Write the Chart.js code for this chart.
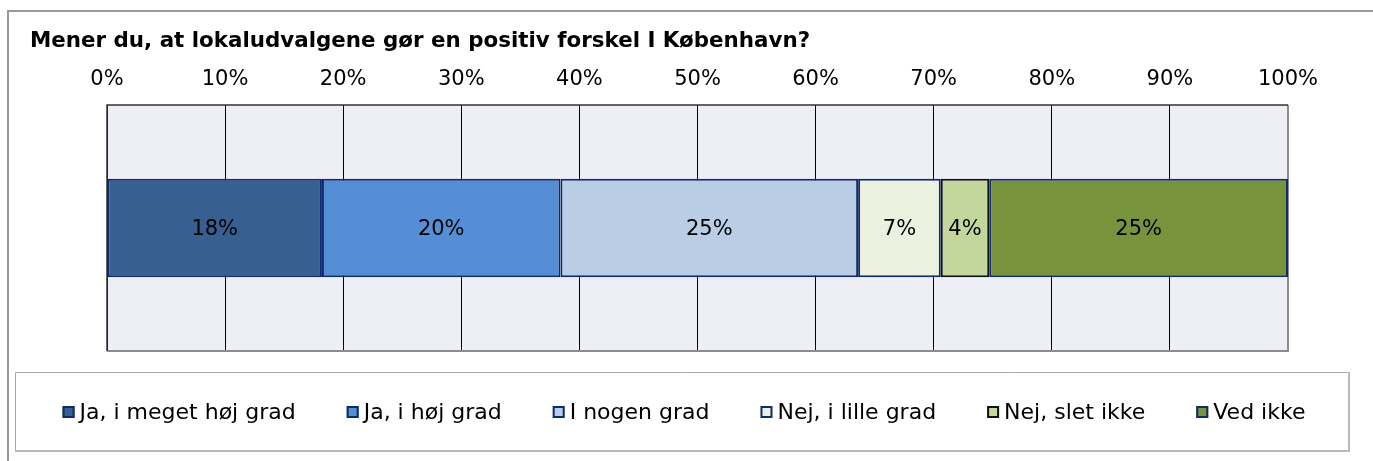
<!DOCTYPE html>
<html>
<head>
<meta charset="utf-8">
<script src="https://cdn.jsdelivr.net/npm/chart.js@4"></script>
<style>
html,body{margin:0;padding:0;background:#fff;}
#wrap{width:1373px;height:461px;position:relative;}
</style>
</head>
<body>
<div id="wrap"><canvas id="c" width="1373" height="461"></canvas></div>
<script>
const chartTitle = 'Mener du, at lokaludvalgene gør en positiv forskel I København?';
const categories = [''];
const seriesNames = ['Ja, i meget høj grad', 'Ja, i høj grad', 'I nogen grad', 'Nej, i lille grad', 'Nej, slet ikke', 'Ved ikke'];
const seriesValues = [18.2, 20.2, 25.2, 7.0, 4.1, 25.3];
const seriesColors = ['#375F8F', '#558ED5', '#B9CDE5', '#EBF1DE', '#C3D69B', '#77933C'];
const seriesBorders = ['#0F2B6B', '#0F2B6B', '#0F2B6B', '#0F2B6B', '#111111', '#0F2B6B'];
const tickValues = [0, 10, 20, 30, 40, 50, 60, 70, 80, 90, 100];

const FONT = "'DejaVu Sans', Verdana, sans-serif";

const datasets = seriesNames.map((name, i) => ({
  label: name,
  data: [seriesValues[i]],
  backgroundColor: seriesColors[i],
  borderColor: seriesBorders[i],
  borderWidth: 2,
  borderSkipped: false,
  barPercentage: 0.40,
  categoryPercentage: 1.0
}));

const decor = {
  id: 'decor',
  beforeDraw(chart) {
    const ctx = chart.ctx;
    const a = chart.chartArea;
    ctx.save();
    ctx.fillStyle = '#fff';
    ctx.fillRect(0, 0, chart.width, chart.height);
    // outer frame (right and bottom edges lie outside the picture)
    ctx.strokeStyle = '#999999';
    ctx.lineWidth = 2;
    ctx.strokeRect(8, 11, 1380, 470);
    // plot background
    ctx.fillStyle = '#EEEEF7';
    ctx.fillRect(a.left, a.top, a.right - a.left, a.bottom - a.top);
    // title
    ctx.fillStyle = '#000';
    ctx.font = "bold 21.4px " + FONT;
    ctx.textBaseline = 'alphabetic';
    ctx.textAlign = 'left';
    ctx.fillText(chartTitle, 30, 47);
    ctx.restore();
  },
  beforeDatasetsDraw(chart) {
    const ctx = chart.ctx;
    const a = chart.chartArea;
    ctx.save();
    ctx.lineWidth = 2;
    ctx.strokeStyle = '#8c8c8c';
    ctx.beginPath();
    ctx.moveTo(a.right, a.top);
    ctx.lineTo(a.right, a.bottom);
    ctx.lineTo(a.left, a.bottom);
    ctx.stroke();
    ctx.strokeStyle = '#333';
    ctx.lineWidth = 1.5;
    ctx.beginPath();
    ctx.moveTo(a.left, a.bottom);
    ctx.lineTo(a.left, a.top);
    ctx.lineTo(a.right, a.top);
    ctx.stroke();
    ctx.restore();
  },
  afterDatasetsDraw(chart) {
    const ctx = chart.ctx;
    ctx.save();
    ctx.fillStyle = '#000';
    ctx.font = "21px " + FONT;
    ctx.textAlign = 'center';
    ctx.textBaseline = 'middle';
    chart.data.datasets.forEach((ds, i) => {
      const meta = chart.getDatasetMeta(i);
      meta.data.forEach((el, j) => {
        const p = el.getCenterPoint();
        ctx.fillText(Math.round(ds.data[j]) + '%', p.x, p.y + 2);
      });
    });
    ctx.restore();
  },
  afterDraw(chart) {
    const ctx = chart.ctx;
    ctx.save();
    // legend box
    const bx = 15, by = 372, bw = 1334, bh = 79;
    ctx.strokeStyle = '#a8a8a8';
    ctx.lineWidth = 1;
    ctx.beginPath();
    ctx.moveTo(bx + 0.5, by + bh);
    ctx.lineTo(bx + 0.5, by + 0.5);
    ctx.lineTo(bx + bw, by + 0.5);
    ctx.stroke();
    ctx.strokeStyle = '#b8b8b8';
    ctx.lineWidth = 2;
    ctx.beginPath();
    ctx.moveTo(bx + bw, by);
    ctx.lineTo(bx + bw, by + bh);
    ctx.lineTo(bx, by + bh);
    ctx.stroke();
    ctx.font = "22px " + FONT;
    const marker = 12, gapText = 5, spacing = 51;
    const items = chart.data.datasets.map(ds => ({ ds, w: ctx.measureText(ds.label).width }));
    let total = 0;
    items.forEach((it, i) => { total += marker + gapText + it.w + (i < items.length - 1 ? spacing : 0); });
    let x = bx + bw / 2 - total / 2 + 2;
    const cy = 412;
    items.forEach(it => {
      ctx.fillStyle = it.ds.backgroundColor;
      ctx.fillRect(x, cy - marker / 2, marker, marker);
      ctx.strokeStyle = it.ds.borderColor;
      ctx.lineWidth = 2;
      ctx.strokeRect(x + 1, cy - marker / 2 + 1, marker - 2, marker - 2);
      ctx.fillStyle = '#000';
      ctx.textAlign = 'left';
      ctx.textBaseline = 'middle';
      ctx.fillText(it.ds.label, x + marker + gapText, cy + 1);
      x += marker + gapText + it.w + spacing;
    });
    ctx.restore();
  }
};

new Chart(document.getElementById('c'), {
  type: 'bar',
  data: { labels: categories, datasets },
  options: {
    indexAxis: 'y',
    responsive: false,
    animation: false,
    devicePixelRatio: 1,
    layout: { padding: { left: 107, right: 85, top: 0, bottom: 110 } },
    plugins: { legend: { display: false }, tooltip: { enabled: false }, title: { display: false } },
    scales: {
      x: {
        position: 'top',
        stacked: true,
        min: 0,
        max: 100,
        afterBuildTicks(scale) { scale.ticks = tickValues.map(v => ({ value: v })); },
        afterFit(scale) { scale.height = 105; },
        ticks: {
          callback: v => v + '%',
          color: '#000',
          font: { family: FONT, size: 21 },
          padding: 13,
          maxRotation: 0,
          autoSkip: false
        },
        grid: { color: '#000', lineWidth: 1, drawTicks: false },
        border: { display: false }
      },
      y: {
        stacked: true,
        display: false
      }
    }
  },
  plugins: [decor]
});
</script>
</body>
</html>
